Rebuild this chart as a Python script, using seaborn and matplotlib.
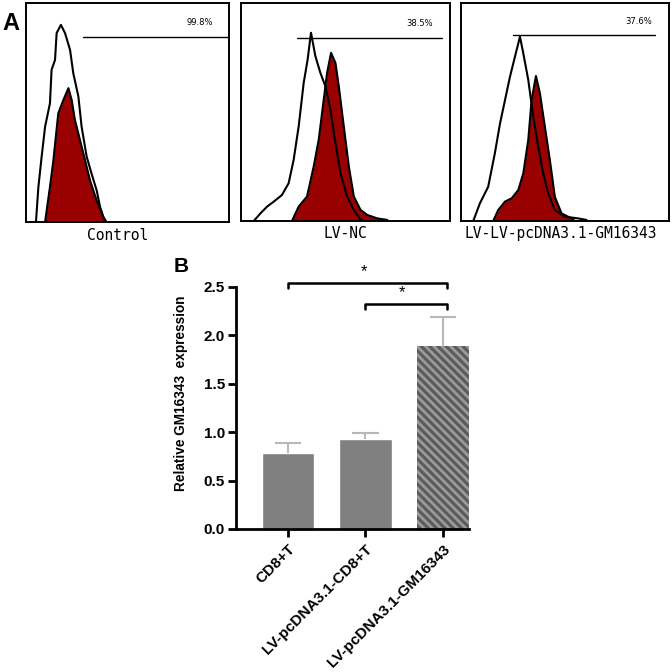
import numpy as np
import matplotlib
matplotlib.use('Agg')
import matplotlib.pyplot as plt
import seaborn as sns

# --- panel A: flow histograms (outline points, % of panel) ---
PANELS   = ['Control', 'LV-NC', 'LV-LV-pcDNA3.1-GM16343']
GATE_PCT = ['99.8%', '38.5%', '37.6%']
gate_x0  = [27.9, 26.8, 25.2]
gate_x1  = [100.0, 96.3, 93.3]
gate_y   = [84.3, 83.9, 85.0]

ctrl_open_x = [4.9, 6.1, 7.7, 9.4, 11.8, 12.6, 14.3, 15.1, 17.2, 19.2, 21.7, 23.3,
               25.8, 27.4, 29.9, 32.3, 34.8, 36.5, 38.9]
ctrl_open_y = [0, 16, 29.8, 43.5, 54.2, 69.5, 74, 86.3, 90, 86.3, 78.6, 67.9,
               57.3, 43.5, 29.8, 22.1, 14.5, 6.9, 0]
ctrl_fill_x = [9.4, 11.8, 13.5, 15.9, 18.4, 20.9, 22.5, 24.1, 26.6, 29.1, 31.5,
               34.8, 38.1, 39.7]
ctrl_fill_y = [0, 16, 28.2, 49.6, 55.7, 61.1, 55.7, 46.6, 37.4, 28.2, 19.1,
               9.9, 2.3, 0]

nc_open_x = [6.1, 9.3, 12.5, 15.7, 19.6, 22.8, 25.2, 27.6, 30, 31.9, 33.5, 35.6,
             38, 40.4, 42.8, 45.2, 47.6, 50.8, 54, 57.2, 58.8]
nc_open_y = [0, 3.5, 6.6, 8.9, 11.9, 17.3, 28, 43.3, 63.2, 74, 86.2, 75.5,
             67.8, 61.7, 51, 35.7, 21.9, 11.2, 5.1, 0.5, 0]
nc_fill_x = [24.4, 27.6, 31.6, 34.8, 37.2, 39.6, 41.2, 43.1, 45.2, 46.8, 49.2,
             51.6, 54, 57.2, 60.4, 65.2, 70, 70.3]
nc_fill_y = [0, 6.6, 11.2, 25, 37.2, 55.6, 67.8, 77, 72.4, 61.7, 43.3,
             25, 11.2, 5.1, 2.8, 1.2, 0.5, 0]

gm_open_x = [5.9, 9.1, 13.1, 16.3, 18.8, 21.2, 23.6, 26, 28.4, 30, 32.4, 34.8,
             37.2, 39.6, 42, 45.2, 50, 56.4, 60.4, 60.9]
gm_open_y = [0, 8.1, 15.7, 31, 44.7, 55.4, 66.1, 75.3, 84.4, 76.8, 64.6, 47.8,
             34, 21.8, 12.7, 5, 2, 1.2, 0.5, 0]
gm_fill_x = [15.5, 17.9, 21.2, 24.4, 27.6, 30, 32.4, 34, 36.1, 38, 40.4, 42.8,
             45.2, 48.4, 53.2, 54.8]
gm_fill_y = [0, 5, 8.9, 10.4, 14.2, 21.8, 37.1, 55.4, 66.4, 58.5, 43.2, 27.9,
             11.1, 3.5, 1.2, 0]

# --- panel B: bar chart ---
GROUPS = ['CD8+T', 'LV-pcDNA3.1-CD8+T', 'LV-pcDNA3.1-GM16343']
MEANS  = [0.79, 0.93, 1.89]
ERRS   = [0.10, 0.06, 0.30]
SIG_PAIRS   = [(0, 2.05), (1, 2.05)]
SIG_HEIGHTS = [2.54, 2.32]


sns.set_style('ticks')
plt.rcParams['font.family'] = ['Liberation Sans', 'DejaVu Sans']
plt.rcParams['hatch.linewidth'] = 2.3
for k in ['text.color', 'axes.labelcolor', 'xtick.color', 'ytick.color']:
    plt.rcParams[k] = 'black'

fig = plt.figure(figsize=(6.72, 6.72), dpi=100)

hist_pos = [[0.0387, 0.6696, 0.302, 0.326],
            [0.3586, 0.6711, 0.311, 0.325],
            [0.6860, 0.6711, 0.309, 0.325]]
curves = [(ctrl_open_x, ctrl_open_y, ctrl_fill_x, ctrl_fill_y),
          (nc_open_x, nc_open_y, nc_fill_x, nc_fill_y),
          (gm_open_x, gm_open_y, gm_fill_x, gm_fill_y)]
label_x = [0.45, 0.5, 0.48]

for i, pos in enumerate(hist_pos):
    ax = fig.add_axes(pos)
    ox, oy, fx, fy = curves[i]
    ax.fill_between(fx, fy, color='#990000', lw=0, zorder=1)
    sns.lineplot(x=fx, y=fy, ax=ax, color='black', lw=1.5,
                 estimator=None, sort=False, zorder=2)
    sns.lineplot(x=ox, y=oy, ax=ax, color='black', lw=1.5,
                 estimator=None, sort=False, zorder=3)
    ax.plot([gate_x0[i], gate_x1[i]], [gate_y[i], gate_y[i]],
            color='black', lw=1.0)
    ax.text(85.5, gate_y[i] + 4.5, GATE_PCT[i], fontsize=6,
            ha='center', va='bottom', family='DejaVu Sans')
    ax.set_xlim(0, 100)
    ax.set_ylim(0, 100)
    ax.set_xticks([])
    ax.set_yticks([])
    for s in ax.spines.values():
        s.set_visible(True)
        s.set_linewidth(1.4)
        s.set_color('black')
    ax.text(label_x[i], -0.025, PANELS[i], transform=ax.transAxes,
            ha='center', va='top', fontsize=10.5, family='DejaVu Sans Mono')

fig.text(0.003, 0.982, 'A', fontsize=17, fontweight='bold', va='top')

# bar chart
ax = fig.add_axes([0.351, 0.2128, 0.347, 0.3602])
sns.barplot(x=GROUPS, y=MEANS, hue=GROUPS, legend=False,
            palette=['#808080', '#808080', '#9c9c9c'],
            width=0.675, errorbar=None, saturation=1, ax=ax, zorder=2)
hb = ax.patches[2]
hb.set_hatch('\\\\\\\\')
hb.set_edgecolor('#5c5c5c')
hb.set_linewidth(0)

# upper-only error bars
xs = np.arange(len(GROUPS))
tops = np.array(MEANS) + np.array(ERRS)
ax.vlines(xs, MEANS, tops, color='#b8b8b8', lw=1.5, zorder=3)
ax.hlines(tops, xs - 0.17, xs + 0.17, color='#b8b8b8', lw=1.5, zorder=3)

for (a, b), h in zip(SIG_PAIRS, SIG_HEIGHTS):
    ax.plot([a, a, b, b], [h - 0.05, h, h, h - 0.05], color='black',
            lw=1.8, clip_on=False)
    ax.text((a + b) / 2 - 0.05, h + 0.04, '*', ha='center', va='bottom',
            fontsize=12, clip_on=False)

ax.set_xlim(-0.675, 2.34)
ax.set_ylim(0, 2.5)
ax.set_yticks([0, 0.5, 1.0, 1.5, 2.0, 2.5])
ax.set_yticklabels(['0.0', '0.5', '1.0', '1.5', '2.0', '2.5'],
                   fontsize=11, fontweight='bold')
ax.set_xticks(xs)
ax.set_xticklabels(GROUPS, rotation=45, ha='right', rotation_mode='anchor',
                   fontsize=11, fontweight='bold')
ax.set_ylabel('Relative GM16343  expression', fontsize=9.8,
              fontweight='bold')
ax.yaxis.set_label_coords(-0.206, 0.562)
ax.set_xlabel('')
sns.despine(ax=ax)
for s in ['left', 'bottom']:
    ax.spines[s].set_linewidth(2)
    ax.spines[s].set_color('black')
ax.tick_params(axis='both', width=2, length=6, color='black')
ax.tick_params(axis='y', pad=2)

fig.text(0.258, 0.617, 'B', fontsize=15, fontweight='bold', va='top')

fig.savefig('out.png', dpi=100)
